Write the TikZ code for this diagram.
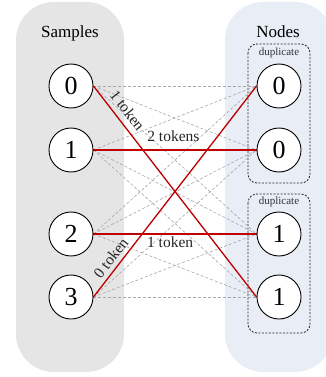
\documentclass[tikz,border=0pt]{standalone}
\usepackage{fontspec}
\setmainfont{Liberation Serif}
\usetikzlibrary{backgrounds}
\definecolor{leftbg}{HTML}{E5E5E5}
\definecolor{rightbg}{HTML}{E9EEF6}
\definecolor{hotred}{HTML}{C00000}
\definecolor{faintgray}{HTML}{A6A6A6}
\begin{document}
\begin{tikzpicture}[x=1pt,y=-1pt,
  num/.style={circle,draw=black,line width=0.9pt,fill=white,minimum size=44pt,inner sep=0pt,font=\fontsize{26}{28}\selectfont},
  dupbox/.style={draw=black!85,line width=0.8pt,dash pattern=on 2pt off 1.5pt,rounded corners=9pt},
  faint/.style={draw=faintgray,line width=0.6pt,dash pattern=on 3pt off 2pt},
  hot/.style={draw=hotred,line width=1.3pt},
  lab/.style={font=\fontsize{15.5}{17}\selectfont,text=black!85,inner sep=1pt},
  title/.style={font=\fontsize{17}{19}\selectfont,anchor=base},
  duptext/.style={font=\fontsize{11}{12}\selectfont,text=black!80},
]
\useasboundingbox (0,0) rectangle (326,377);
\node[num] (s0) at (71,86) {0};
\node[num] (s1) at (71,150) {1};
\node[num] (s2) at (71,234) {2};
\node[num] (s3) at (71,297) {3};
\node[num] (r0) at (279,86) {0};
\node[num] (r1) at (279,150) {0};
\node[num] (r2) at (279,234) {1};
\node[num] (r3) at (279,297) {1};
\begin{pgfonlayer}{background}
  \begin{scope}
    \clip (0,0) rectangle (326,377);
    \fill[leftbg,rounded corners=38pt] (16,2) rectangle (124,372);
    \fill[rightbg,rounded corners=38pt] (225,2) rectangle (333,372);
  \end{scope}
  \node[title] (tsamp) at (70,38) {Samples};
  \node[title] (tnodes) at (278,38) {Nodes};
  \draw[dupbox] (248,44) rectangle (310,183);
  \draw[dupbox] (248,194) rectangle (310,333);
  \node[duptext] (d1) at (279,53) {duplicate};
  \node[duptext] (d2) at (279,202) {duplicate};
  \foreach \i in {0,1,2,3}{
    \foreach \j in {0,1,2,3}{
      \draw[faint] (s\i.east) -- (r\j.west);
    }
  }
  \draw[hot] (s0.east) -- node[lab,sloped,above=5pt,pos=0.15] {1 token} (r3.west);
  \draw[hot] (s1.east) -- node[lab,above=6.5pt,pos=0.49] {2 tokens} (r1.west);
  \draw[hot] (s2.east) -- node[lab,below=1pt,pos=0.47] {1 token} (r2.west);
  \draw[hot] (s3.east) -- node[lab,sloped,above=3pt,pos=0.155] {0 token} (r0.west);
\end{pgfonlayer}
\end{tikzpicture}
\end{document}
